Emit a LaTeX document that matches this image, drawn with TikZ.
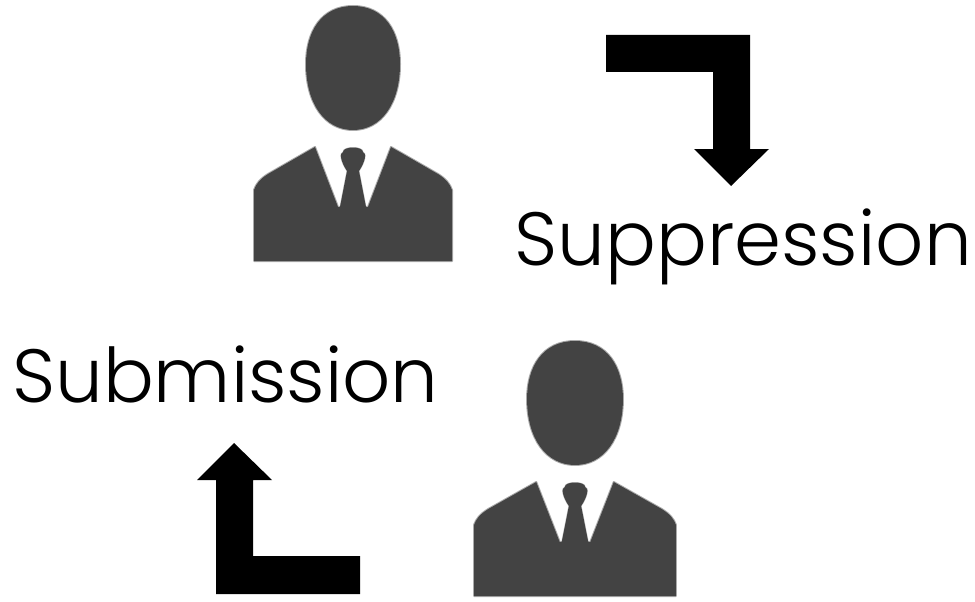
\documentclass[tikz,border=0pt]{standalone}
\usepackage{fontspec}
\setmainfont{Poppins Light}
\definecolor{personfill}{HTML}{434343}
\tikzset{
  x=1pt,y=-1pt,
  soft/.style={fill=personfill,draw=personfill,draw opacity=0.45,line width=2pt,line join=round},
  person/.pic={
    \path[soft]
      (100,6) .. controls (132,6) and (147,32) .. (147,64)
      .. controls (147,104) and (128,130) .. (100,130)
      .. controls (72,130) and (53,104) .. (53,64)
      .. controls (53,32) and (68,6) .. (100,6) -- cycle;
    \path[soft]
      (1,261) -- (1,190) .. controls (3,184) and (7,179) .. (15,174)
      -- (62,147) -- (85,207) -- (115,207) -- (138,147) -- (185,174)
      .. controls (193,179) and (197,184) .. (199,190) -- (199,261) -- cycle;
    \path[soft,draw opacity=0.3,line width=1pt]
      (90,152) .. controls (90,146) and (110,146) .. (110,152)
      .. controls (114,153) and (112,162) .. (106,171)
      -- (113,207) -- (87,207) -- (94,171)
      .. controls (88,162) and (86,153) .. (90,152) -- cycle;
  },
  bigarrow/.style={fill=black},
  caption/.style={inner sep=0pt,anchor=base west,font=\fontsize{75.4}{75.4}\selectfont}
}
\begin{document}
\begin{tikzpicture}
\useasboundingbox (0,0) rectangle (975,602);
\pic at (253,0) {person};
\pic[xscale=1.02] at (473,335) {person};
\fill[bigarrow] (606,35) -- (750,35) -- (750,149) -- (769,149) -- (731,186)
  -- (694,149) -- (713,149) -- (713,72) -- (606,72) -- cycle;
\fill[bigarrow] (360,594) -- (216,594) -- (216,480) -- (197,480) -- (234,443)
  -- (272,480) -- (253,480) -- (253,556) -- (360,556) -- cycle;
\node[caption] (suppression) at (514.5,265) {Suppression};
\node[caption] (submission) at (12,402) {Submission};
\end{tikzpicture}
\end{document}
